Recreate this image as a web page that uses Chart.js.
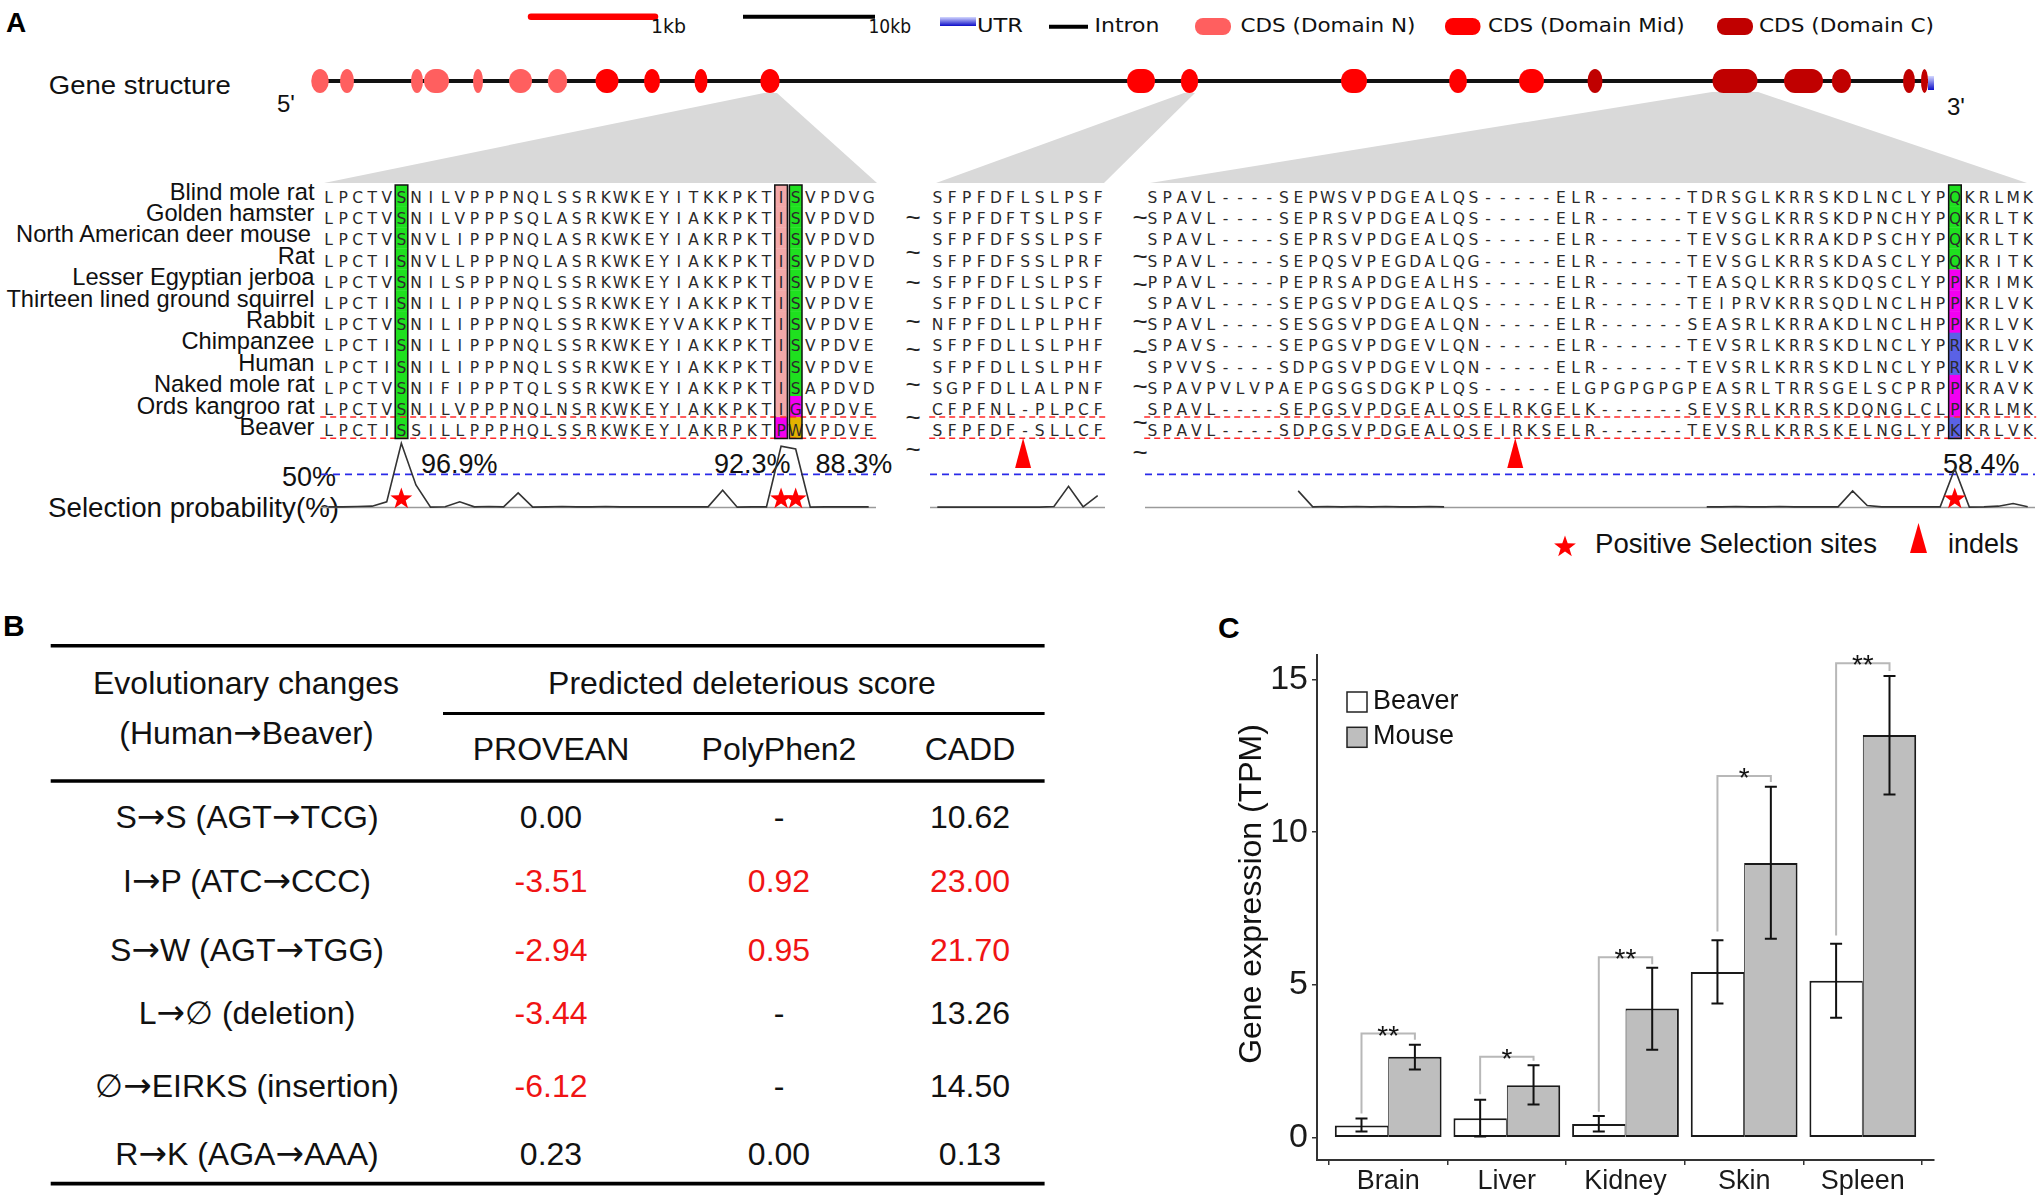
<!DOCTYPE html>
<html>
<head>
<meta charset="utf-8">
<title>Beaver gene figure</title>
<script src="https://cdn.jsdelivr.net/npm/chart.js@4.4.1/dist/chart.umd.min.js"></script>
<style>
  html, body { margin: 0; padding: 0; background: #fff; }
  #page { position: relative; width: 2037px; height: 1199px; overflow: hidden; background: #fff; }
  #art { position: absolute; left: 0; top: 0; }
  canvas { position: absolute; }
  .aa { font-family: "DejaVu Sans", Verdana, sans-serif; font-size: 15.5px; fill: #2b2b2b; }
  .sp { font-family: "Liberation Sans", Arial, sans-serif; font-size: 23.7px; fill: #111; }
  .lab { font-family: "Liberation Sans", Arial, sans-serif; font-size: 27px; fill: #111; }
  .leg { font-family: "DejaVu Sans Condensed", "DejaVu Sans", sans-serif; font-size: 20px; fill: #111; }
  .tb { font-family: "Liberation Sans", Arial, sans-serif; font-size: 32px; fill: #111; }
  .arr { font-family: "DejaVu Sans", sans-serif; font-size: 34px; }
  .til { font-family: "Liberation Sans", Arial, sans-serif; font-size: 26px; fill: #222; }
</style>
</head>
<body>
<div id="page">
  <svg id="art" width="2037" height="1199"></svg>
  <canvas id="exprChart" width="837" height="599" style="left:1200px;top:600px"></canvas>
  <canvas id="trace1"></canvas>
  <canvas id="trace2"></canvas>
  <canvas id="trace3"></canvas>
</div>
<script>
// ---------- panel C: expression ----------
const tissues = ["Brain", "Liver", "Kidney", "Skin", "Spleen"];
const beaverTPM  = [0.40, 0.64, 0.45, 5.42, 5.14];
const beaverLow  = [0.20, 0.04, 0.20, 4.39, 3.93];
const beaverHigh = [0.63, 1.24, 0.71, 6.46, 6.35];
const mouseTPM   = [2.65, 1.72, 4.23, 8.99, 13.18];
const mouseLow   = [2.23, 1.09, 2.88, 6.51, 11.23];
const mouseHigh  = [3.04, 2.37, 5.56, 11.49, 15.11];
const sigLabels    = ["**", "*", "**", "*", "**"];
const bracketTop   = [3.41, 2.65, 5.91, 11.84, 15.53];
const bracketLeft  = [0.79, 1.42, 0.85, 6.75, 6.62];
const bracketRight = [3.21, 2.52, 5.68, 11.64, 15.28];
const yTicks = [0, 5, 10, 15];

// ---------- panel A: alignment ----------
const species = ["Blind mole rat", "Golden hamster", "North American deer mouse", "Rat",
  "Lesser Egyptian jerboa", "Thirteen lined ground squirrel", "Rabbit", "Chimpanzee",
  "Human", "Naked mole rat", "Ords kangroo rat", "Beaver"];

const seqBlock1 = [
  "LPCTVSNILVPPPNQLSSRKWKEYITKKPKTISVPDVG",
  "LPCTVSNILVPPPSQLASRKWKEYIAKKPKTISVPDVD",
  "LPCTVSNVLIPPPNQLASRKWKEYIAKRPKTISVPDVD",
  "LPCTISNVLLPPPNQLASRKWKEYIAKKPKTISVPDVD",
  "LPCTVSNILSPPPNQLSSRKWKEYIAKKPKTISVPDVE",
  "LPCTISNILIPPPNQLSSRKWKEYIAKKPKTISVPDVE",
  "LPCTVSNILIPPPNQLSSRKWKEYVAKKPKTISVPDVE",
  "LPCTISNILIPPPNQLSSRKWKEYIAKKPKTISVPDVE",
  "LPCTISNILIPPPNQLSSRKWKEYIAKKPKTISVPDVE",
  "LPCTVSNIFIPPPTQLSSRKWKEYIAKKPKTISAPDVD",
  "LPCTVSNILVPPPNQLNSRKWKEYIAKKPKTIGVPDVE",
  "LPCTISSILLPPPHQLSSRKWKEYIAKRPKTPWVPDVE"];
const seqBlock2 = [
  "SFPFDFLSLPSF", "SFPFDFTSLPSF", "SFPFDFSSLPSF", "SFPFDFSSLPRF",
  "SFPFDFLSLPSF", "SFPFDLLSLPCF", "NFPFDLLPLPHF", "SFPFDLLSLPHF",
  "SFPFDLLSLPHF", "SGPFDLLALPNF", "CFPFNL-PLPCF", "SFPFDF-SLLCF"];
const seqBlock3 = [
  "SPAVL----SEPWSVPDGEALQS-----ELR------TDRSGLKRRSKDLNCLYPQKRLMK",
  "SPAVL----SEPRSVPDGEALQS-----ELR------TEVSGLKRRSKDPNCHYPQKRLTK",
  "SPAVL----SEPRSVPDGEALQS-----ELR------TEVSGLKRRAKDPSCHYPQKRLTK",
  "SPAVL----SEPQSVPEGDALQG-----ELR------TEVSGLKRRSKDASCLYPQKRITK",
  "PPAVL----PEPRSAPDGEALHS-----ELR------TEASQLKRRSKDQSCLYPPKRIMK",
  "SPAVL----SEPGSVPDGEALQS-----ELR------TEIPRVKRRSQDLNCLHPPKRLVK",
  "SPAVL----SESGSVPDGEALQN-----ELR------SEASRLKRRAKDLNCLHPPKRLVK",
  "SPAVS----SEPGSVPDGEVLQN-----ELR------TEVSRLKRRSKDLNCLYPRKRLVK",
  "SPVVS----SDPGSVPDGEVLQN-----ELR------TEVSRLKRRSKDLNCLYPRKRLVK",
  "SPAVPVLVPAEPGSGSDGKPLQS-----ELGPGPGPGPEASRLTRRSGELSCPRPPKRAVK",
  "SPAVL----SEPGSVPDGEALQSELRKGELK------SEVSRLKRRSKDQNGLCLPKRLMK",
  "SPAVL----SDPGSVPDGEALQSEIRKSELR------TEVSRLKRRSKELNGLYPKKRLVK"];

// highlighted columns (block, column, colour code per species row)
const highlightCols = [
  { block: 0, col: 6,  codes: "GGGGGGGGGGGG" },
  { block: 0, col: 32, codes: "PPPPPPPPPPPM" },
  { block: 0, col: 33, codes: "GGGGGGGGGGMY" },
  { block: 2, col: 56, codes: "GGGGMMMBBMMB" }];

// selection probability (%) per alignment column
const selProb1 = [1, 1, 1.5, 2, 8.5, 96.9, 34, 0.5, 1, 8.5, 1, 1.5, 1, 22, 0.5, 1, 1.5, 1, 1,
  1.5, 1, 1, 1, 1, 1, 1, 1, 26, 0.5, 1, 1, 92.3, 88.3, 0.5, 1, 1, 1, 1];
const selProb2 = [0.5, 0.5, 0.5, 0.5, 0.5, 0.5, 0.5, 0.5, 1.5, 32, 1, 18];
const selProb3 = [null, null, null, null, null, null, null, null, null, null, 25, 1, 1.5, 1, 1.5,
  1, 1.5, 1, 1, 1.5, 1, null, null, null, null, null, null, null, null, null, null, null, null,
  null, null, null, null, null, 1, 1, 1.5, 1, 1, 1.5, 1, 1, 1, 1, 25, 3, 1, 1, 1, 1, 1, 58.4,
  0.5, 1, 2, 6, 1];
const threshold = 50;
const starCols1 = [6, 32, 33];
const starCols2 = [];
const starCols3 = [56];
const indelCols = [[1, 7], [2, 26]];

// ---------- panel B: scores ----------
const changes = ["S\u2192S (AGT\u2192TCG)", "I\u2192P (ATC\u2192CCC)", "S\u2192W (AGT\u2192TGG)",
  "L\u2192\u2205 (deletion)", "\u2205\u2192EIRKS (insertion)", "R\u2192K (AGA\u2192AAA)"];
const proveanScores  = ["0.00", "-3.51", "-2.94", "-3.44", "-6.12", "0.23"];
const polyphenScores = ["-", "0.92", "0.95", "-", "-", "0.00"];
const caddScores     = ["10.62", "23.00", "21.70", "13.26", "14.50", "0.13"];
const deleterious = [[0, 0, 0], [1, 1, 1], [1, 1, 1], [1, 0, 0], [1, 0, 0], [0, 0, 0]];

// ---------- layout ----------
const SANS = '"Liberation Sans", Arial, Helvetica, sans-serif';
const blockGeom = [
  { x0: 328.5, pitch: 14.6 },
  { x0: 937.5, pitch: 14.6 },
  { x0: 1152.5, pitch: 14.59 }];
const CELL_TOP = 185, CELL_H = 21.1;
const SEQ_BASE = 203, SEQ_PITCH = 21.2;
const NAME_BASE = 199.5, NAME_PITCH = 21.4;
const cellColors = { G: "#1fe01f", P: "#f3a8a8", M: "#f200f2", Y: "#e3b200", B: "#5a62e6" };
const exonColors = { N: "#ff5f5f", M: "#ff0000", C: "#c00000" };
const exons = [[320, 17.5, "N"], [347, 14, "N"], [417, 12, "N"], [436.5, 25, "N"], [478, 10, "N"],
  [520.5, 23, "N"], [557.5, 19.5, "N"], [607, 23, "M"], [652, 16, "M"], [701, 13, "M"],
  [770, 19.5, "M"], [1141, 28, "M"], [1189.5, 17.5, "M"], [1354, 26, "M"], [1458, 18, "M"],
  [1531.5, 25, "M"], [1595, 15, "C"], [1735, 45, "C"], [1803.5, 39, "C"], [1841.5, 19.5, "C"],
  [1909, 12, "C"], [1924.5, 7, "C"]];

const NS = "http://www.w3.org/2000/svg";
const art = document.getElementById("art");
function add(tag, attrs, text, parent) {
  const e = document.createElementNS(NS, tag);
  for (const k in attrs) e.setAttribute(k, attrs[k]);
  if (text != null) e.textContent = text;
  (parent || art).appendChild(e);
  return e;
}
// text with the arrows set in a font whose arrow is long, like the original
function addArrowText(attrs, str) {
  const t = add("text", attrs);
  str.split(/(\u2192)/).forEach(part => {
    if (!part) return;
    const s = add("tspan", part === "\u2192" ? { class: "arr" } : {}, part, t);
  });
  return t;
}
function starPts(cx, cy, R, r) {
  const p = [];
  for (let k = 0; k < 10; k++) {
    const rad = k % 2 ? r : R, a = -Math.PI / 2 + k * Math.PI / 5;
    p.push((cx + rad * Math.cos(a)).toFixed(1) + "," + (cy + rad * Math.sin(a)).toFixed(1));
  }
  return p.join(" ");
}

const defs = add("defs", {});
const grad = add("linearGradient", { id: "utrGrad", x1: 0, y1: 0, x2: 0, y2: 1 }, null, defs);
add("stop", { offset: "0", "stop-color": "#d4d8ff" }, null, grad);
add("stop", { offset: "1", "stop-color": "#0c0cc8" }, null, grad);

// panel letters
add("text", { x: 6, y: 32, "font-family": SANS, "font-size": 28, "font-weight": "bold" }, "A");
add("text", { x: 3, y: 636, "font-family": SANS, "font-size": 30, "font-weight": "bold" }, "B");
add("text", { x: 1218, y: 638, "font-family": SANS, "font-size": 30, "font-weight": "bold" }, "C");

// top legend
const fit = { lengthAdjust: "spacingAndGlyphs" };
add("line", { x1: 531, y1: 16.7, x2: 655, y2: 16.7, stroke: "#ff0000", "stroke-width": 6.5, "stroke-linecap": "round" });
add("text", { x: 651, y: 33, class: "leg", textLength: 35, ...fit }, "1kb");
add("line", { x1: 743, y1: 16.7, x2: 875, y2: 16.7, stroke: "#000", "stroke-width": 4 });
add("text", { x: 868.5, y: 33, class: "leg", textLength: 42.5, ...fit }, "10kb");
add("rect", { x: 940, y: 17, width: 36, height: 9, fill: "url(#utrGrad)" });
add("text", { x: 977, y: 32.3, class: "leg", textLength: 46, ...fit }, "UTR");
add("line", { x1: 1049, y1: 26.7, x2: 1088, y2: 26.7, stroke: "#000", "stroke-width": 4 });
add("text", { x: 1094.6, y: 32.3, class: "leg", textLength: 64.8, ...fit }, "Intron");
[[1195, 36, "N", 1240.5, 175, "CDS (Domain N)"], [1445, 35.5, "M", 1488, 196.7, "CDS (Domain Mid)"],
 [1717, 36, "C", 1759, 175, "CDS (Domain C)"]].forEach(([x, w, d, tx, tl, t]) => {
  add("rect", { x, y: 18, width: w, height: 17, rx: 8, fill: exonColors[d] });
  add("text", { x: tx, y: 32.3, class: "leg", textLength: tl, ...fit }, t);
});

// projections from exons to alignment blocks
["764,93 777,93 877,183 324,183", "1184,93 1195,93 1104,183 936,183",
 "1712,92 1758,92 2027,183 1150,183"].forEach(p => add("polygon", { points: p, fill: "#d9d9d9" }));

// gene structure
add("line", { x1: 313, y1: 81, x2: 1931, y2: 81, stroke: "#111", "stroke-width": 4 });
exons.forEach(([c, w, d]) => add("rect", { x: c - w / 2, y: 69, width: w, height: 24,
  rx: Math.min(w / 2, 11), ry: 12, fill: exonColors[d] }));
add("rect", { x: 1928, y: 76, width: 6, height: 14, fill: "url(#utrGrad)" });
add("text", { x: 48.8, y: 94, "font-family": SANS, "font-size": 26, fill: "#111", textLength: 182, ...fit }, "Gene structure");
add("text", { x: 277, y: 112, "font-family": SANS, "font-size": 24, fill: "#111" }, "5'");
add("text", { x: 1947, y: 115, "font-family": SANS, "font-size": 24, fill: "#111" }, "3'");

// species names
species.forEach((s, r) => add("text", { x: r === 2 ? 311 : 314.5, y: NAME_BASE + r * NAME_PITCH,
  "text-anchor": "end", class: "sp" }, s));

// highlighted cells
const blocks = [seqBlock1, seqBlock2, seqBlock3];
highlightCols.forEach(h => {
  const g = blockGeom[h.block], cx = g.x0 + (h.col - 1) * g.pitch;
  for (let r = 0; r < 12; r++) add("rect", { x: cx - 6.3, y: CELL_TOP + r * CELL_H, width: 12.6,
    height: CELL_H + 0.3, fill: cellColors[h.codes[r]] });
});
// letters
blocks.forEach((rows, b) => {
  const g = blockGeom[b];
  rows.forEach((seq, r) => {
    for (let c = 0; c < seq.length; c++) add("text", { x: (g.x0 + c * g.pitch).toFixed(1),
      y: (SEQ_BASE + r * SEQ_PITCH).toFixed(1), "text-anchor": "middle", class: "aa" }, seq[c]);
  });
  // beaver row dashed frame
  const left = g.x0 - g.pitch / 2 - 1, right = g.x0 + (rows[0].length - 0.5) * g.pitch + 1;
  [CELL_TOP + 11 * CELL_H, CELL_TOP + 12 * CELL_H].forEach(y => add("line", { x1: left, y1: y,
    x2: right, y2: y, stroke: "#ff2a2a", "stroke-width": 1.5, "stroke-dasharray": "6,4" }));
});
highlightCols.forEach(h => {
  const g = blockGeom[h.block], cx = g.x0 + (h.col - 1) * g.pitch;
  add("rect", { x: cx - 6.3, y: CELL_TOP, width: 12.6, height: 12 * CELL_H + 0.3,
    fill: "none", stroke: "#111", "stroke-width": 1.5 });
});
// tildes between blocks
[[913, [218, 253, 283, 322, 350, 385, 418, 450]], [1140, [218, 257, 285, 322, 352, 387, 423, 453]]]
  .forEach(([x, ys]) => ys.forEach(y => add("text", { x, y: y + 8, "text-anchor": "middle", class: "til" }, "~")));
// indel triangles
indelCols.forEach(([b, c]) => {
  const g = blockGeom[b], cx = g.x0 + (c - 1) * g.pitch - 2;
  add("polygon", { points: `${cx},438 ${cx - 8},468 ${cx + 8},468`, fill: "#ff0000" });
});
// probability labels
add("text", { x: 421, y: 473, class: "lab" }, "96.9%");
add("text", { x: 714, y: 473, class: "lab" }, "92.3%");
add("text", { x: 815.6, y: 473, class: "lab" }, "88.3%");
add("text", { x: 1943, y: 473, class: "lab" }, "58.4%");
add("text", { x: 282, y: 486, class: "lab", "font-size": 26 }, "50%");
add("text", { x: 48, y: 517, class: "lab", textLength: 291, ...fit }, "Selection probability(%)");
// bottom legend
add("polygon", { points: starPts(1565, 547, 11.5, 4.6), fill: "#ff0000" });
add("text", { x: 1595, y: 553, class: "lab", textLength: 282, ...fit }, "Positive Selection sites");
add("polygon", { points: "1918.5,523 1910,553 1927,553", fill: "#ff0000" });
add("text", { x: 1948, y: 553, class: "lab" }, "indels");

// ---------- panel B table ----------
[[50.7, 645.8, 1044.6, 3.6], [443, 713.4, 1044.6, 3], [50.7, 781, 1044.6, 3.6], [50.7, 1183.6, 1044.6, 3.6]]
  .forEach(([x1, y, x2, w]) => add("line", { x1, y1: y, x2, y2: y, stroke: "#000", "stroke-width": w }));
add("text", { x: 246, y: 693.5, class: "tb", "text-anchor": "middle" }, "Evolutionary changes");
addArrowText({ x: 246.5, y: 744, class: "tb", "text-anchor": "middle" }, "(Human\u2192Beaver)");
add("text", { x: 742, y: 693.5, class: "tb", "text-anchor": "middle" }, "Predicted deleterious score");
const colX = [551, 779, 970];
["PROVEAN", "PolyPhen2", "CADD"].forEach((t, i) => add("text", { x: colX[i], y: 760, class: "tb", "text-anchor": "middle" }, t));
const rowBase = [828.4, 892, 961, 1024, 1096.6, 1164.6];
changes.forEach((t, r) => {
  addArrowText({ x: 247, y: rowBase[r], class: "tb", "text-anchor": "middle" }, t);
  [proveanScores, polyphenScores, caddScores].forEach((col, i) => {
    const e = add("text", { x: colX[i], y: rowBase[r], class: "tb", "text-anchor": "middle" }, col[r]);
    if (deleterious[r][i]) e.style.fill = "#f01414";
  });
});

// ---------- Chart.js: selection traces ----------
Chart.defaults.font.family = SANS;
const TRACE_TOP = 436, TRACE_H = 76;
function drawStar(ctx, cx, cy, R, r) {
  ctx.beginPath();
  for (let k = 0; k < 10; k++) {
    const rad = k % 2 ? r : R, a = -Math.PI / 2 + k * Math.PI / 5;
    ctx.lineTo(cx + rad * Math.cos(a), cy + rad * Math.sin(a));
  }
  ctx.closePath();
  ctx.fill();
}
function makeTrace(id, b, values, stars) {
  const g = blockGeom[b], n = values.length;
  const cv = document.getElementById(id);
  cv.width = Math.round(n * g.pitch);
  cv.height = TRACE_H;
  cv.style.left = (g.x0 - g.pitch / 2) + "px";
  cv.style.top = TRACE_TOP + "px";
  new Chart(cv, {
    type: "line",
    data: {
      datasets: [
        { data: values.map((v, i) => ({ x: i + 1, y: v })), borderColor: "#333", borderWidth: 1.6,
          pointRadius: 0, spanGaps: false, tension: 0 },
        { data: [{ x: 0.5, y: 0 }, { x: n + 0.5, y: 0 }], borderColor: "#9a9a9a", borderWidth: 1.5, pointRadius: 0 },
        { data: [{ x: 0.5, y: threshold }, { x: n + 0.5, y: threshold }], borderColor: "#2a2ae8",
          borderWidth: 1.6, borderDash: [7, 5], pointRadius: 0 }
      ]
    },
    options: {
      responsive: false, animation: false, devicePixelRatio: 1, events: [],
      layout: { padding: 0 },
      scales: {
        x: { type: "linear", min: 0.5, max: n + 0.5, display: false },
        y: { min: -6.8, max: 107.8, display: false }
      },
      plugins: { legend: { display: false }, tooltip: { enabled: false } }
    },
    plugins: [{
      id: "selStars",
      afterDatasetsDraw(chart) {
        const { ctx, scales: { x, y } } = chart;
        ctx.save();
        ctx.fillStyle = "#ff0000";
        stars.forEach(c => drawStar(ctx, x.getPixelForValue(c), y.getPixelForValue(0) - 8.5, 11.5, 4.6));
        ctx.restore();
      }
    }]
  });
}
makeTrace("trace1", 0, selProb1, starCols1);
makeTrace("trace2", 1, selProb2, starCols2);
makeTrace("trace3", 2, selProb3, starCols3);

// ---------- Chart.js: expression bars ----------
const errorBarPlugin = {
  id: "errorBars",
  afterDatasetsDraw(chart) {
    const { ctx, scales: { y } } = chart;
    const lows = [beaverLow, mouseLow], highs = [beaverHigh, mouseHigh];
    const b = chart.getDatasetMeta(0).data, m = chart.getDatasetMeta(1).data;
    ctx.save();
    ctx.strokeStyle = "#111";
    ctx.lineWidth = 2;
    [b, m].forEach((bars, d) => bars.forEach((bar, i) => {
      const x = bar.x, y1 = y.getPixelForValue(highs[d][i]), y2 = y.getPixelForValue(lows[d][i]);
      ctx.beginPath();
      ctx.moveTo(x, y1); ctx.lineTo(x, y2);
      ctx.moveTo(x - 6, y1); ctx.lineTo(x + 6, y1);
      ctx.moveTo(x - 6, y2); ctx.lineTo(x + 6, y2);
      ctx.stroke();
    }));
    ctx.strokeStyle = "#b8b8b8";
    ctx.fillStyle = "#111";
    ctx.font = "28px " + SANS;
    ctx.textAlign = "center";
    ctx.textBaseline = "alphabetic";
    tissues.forEach((t, i) => {
      const lx = b[i].x, rx = m[i].x, top = y.getPixelForValue(bracketTop[i]);
      ctx.beginPath();
      ctx.moveTo(lx, y.getPixelForValue(bracketLeft[i]));
      ctx.lineTo(lx, top);
      ctx.lineTo(rx, top);
      ctx.lineTo(rx, y.getPixelForValue(bracketRight[i]));
      ctx.stroke();
      ctx.fillText(sigLabels[i], (lx + rx) / 2, top + 11);
    });
    ctx.restore();
  }
};
const boxLegendPlugin = {
  id: "boxLegend",
  afterDraw(chart) {
    const { ctx, chartArea } = chart;
    const x = chartArea.left + 30, y0 = chartArea.top + 37;
    ctx.save();
    chart.data.datasets.forEach((ds, d) => {
      const y = y0 + d * 35.3;
      ctx.fillStyle = ds.backgroundColor;
      ctx.fillRect(x, y, 20, 20);
      ctx.strokeStyle = "#222";
      ctx.lineWidth = 1.5;
      ctx.strokeRect(x, y, 20, 20);
      ctx.fillStyle = "#111";
      ctx.font = "27px " + SANS;
      ctx.textBaseline = "alphabetic";
      ctx.fillText(ds.label, x + 26, y + 16.6);
    });
    // y axis title, centred where the original places it
    ctx.translate(52, 294);
    ctx.rotate(-Math.PI / 2);
    ctx.font = "32px " + SANS;
    ctx.textAlign = "center";
    ctx.textBaseline = "middle";
    ctx.fillText("Gene expression (TPM)", 0, 0);
    ctx.restore();
  }
};
const axisGrid = { display: true, drawOnChartArea: false, drawTicks: true, tickLength: 5, color: "#333", lineWidth: 1.5 };
const axisBorder = { display: true, color: "#333", width: 2 };
new Chart(document.getElementById("exprChart"), {
  type: "bar",
  data: {
    datasets: [
      { label: "Beaver", data: beaverTPM.map((v, i) => ({ x: i, y: v })), backgroundColor: "#ffffff",
        borderColor: "#1a1a1a", borderWidth: { top: 2, left: 2, bottom: 2, right: 1 }, borderSkipped: false,
        categoryPercentage: 0.9, barPercentage: 1.0 },
      { label: "Mouse", data: mouseTPM.map((v, i) => ({ x: i, y: v })), backgroundColor: "#bebebe",
        borderColor: "#1a1a1a", borderWidth: { top: 2, left: 1, bottom: 2, right: 2 }, borderSkipped: false,
        categoryPercentage: 0.9, barPercentage: 1.0 }
    ]
  },
  options: {
    responsive: false, animation: false, devicePixelRatio: 1, events: [],
    layout: { padding: { left: 0, top: 55, right: 103, bottom: 0 } },
    scales: {
      x: {
        type: "linear", min: -0.6, max: 4.6, offset: false,
        afterBuildTicks: s => { s.ticks = tissues.map((t, i) => ({ value: i })); },
        afterFit: s => { s.height = 39; },
        ticks: { callback: v => tissues[v], font: { size: 27 }, color: "#1a1a1a", padding: 0, maxRotation: 0, autoSkip: false },
        grid: axisGrid, border: axisBorder
      },
      y: {
        min: -0.73, max: 15.8,
        afterBuildTicks: s => { s.ticks = yTicks.map(v => ({ value: v })); },
        afterFit: s => { s.width = 117; },
        ticks: { font: { size: 34 }, color: "#1a1a1a", padding: 4 },
        grid: axisGrid, border: axisBorder
      }
    },
    plugins: { legend: { display: false }, tooltip: { enabled: false } }
  },
  plugins: [errorBarPlugin, boxLegendPlugin]
});
</script>
</body>
</html>
